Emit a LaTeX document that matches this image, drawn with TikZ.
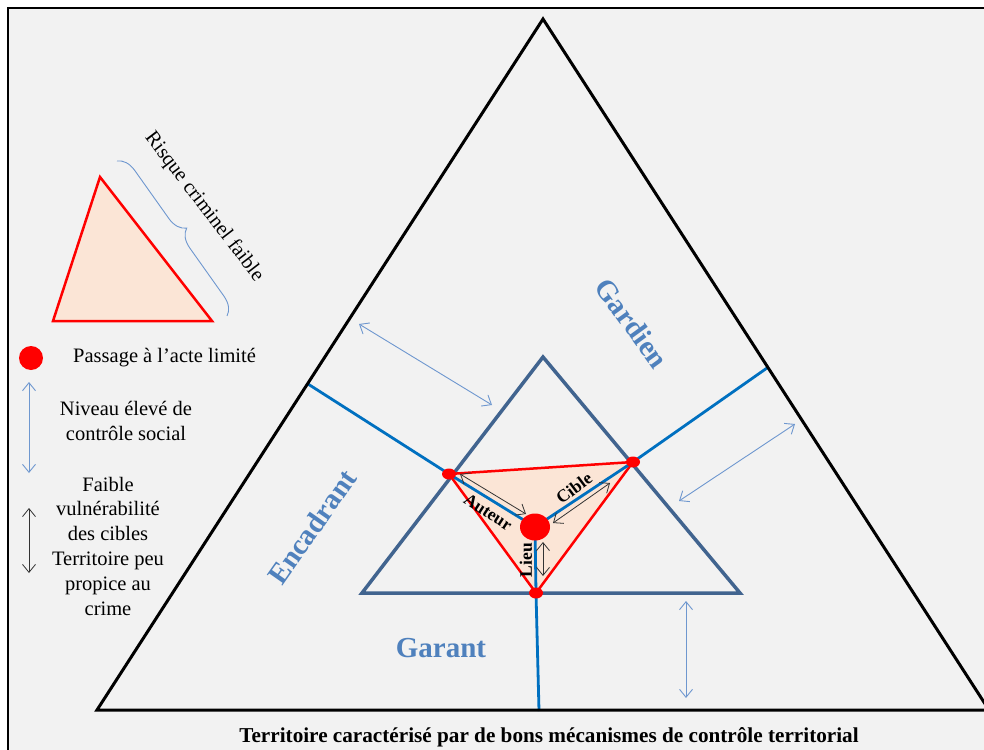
\documentclass[tikz,border=0pt]{standalone}
\usepackage{fontspec}
\setmainfont{Liberation Serif}
\usetikzlibrary{arrows.meta,decorations.pathreplacing}
\definecolor{bg}{HTML}{F2F2F2}
\definecolor{peach}{HTML}{FBE5D6}
\definecolor{linkblue}{HTML}{0070C0}
\definecolor{tri}{HTML}{41648F}
\definecolor{labelblue}{HTML}{4F81BD}
\definecolor{thinblue}{HTML}{6E97CF}
\begin{document}
\begin{tikzpicture}[x=1pt,y=-1pt,
  outer/.style={draw=black,line width=3pt,line join=miter},
  innertri/.style={draw=tri,line width=3.5pt,line join=miter},
  redtri/.style={draw=red,fill=peach,line width=2.5pt,line join=miter},
  link/.style={draw=linkblue,line width=2.8pt},
  thinarrow/.style={draw=thinblue,line width=0.9pt,{Straight Barb[length=8pt,width=13pt]}-{Straight Barb[length=8pt,width=13pt]}},
  blackarrow/.style={draw=black!80,line width=0.8pt,{Straight Barb[length=8pt,width=13pt]}-{Straight Barb[length=8pt,width=13pt]}},
  role/.style={font=\bfseries\fontsize{29}{34}\selectfont,text=labelblue,inner sep=0pt},
  small/.style={font=\bfseries\fontsize{17.5}{20}\selectfont,inner sep=0pt},
  legend/.style={font=\fontsize{20.5}{24.8}\selectfont,inner sep=0pt}
]
\useasboundingbox (0,0) rectangle (984,749);
\fill[white] (0,0) rectangle (984,749);
\begin{scope}
\clip (0,0) rectangle (984,749);
\draw[line width=2pt,fill=bg] (8,8) rectangle (1000,770);
% outer triangle
\coordinate (A) at (543,19);
\coordinate (B) at (97,710);
\coordinate (C) at (989,710);
% inner triangle
\coordinate (P) at (543,357);
\coordinate (Q) at (362,593);
\coordinate (R) at (740,593);
% red triangle
\coordinate (u) at (449,474);
\coordinate (v) at (633,462);
\coordinate (w) at (536,593);
\coordinate (o) at (535,527);
% ends of the blue links on the outer triangle
\coordinate (ul) at (308,384);
\coordinate (vr) at (767,368);
\coordinate (wb) at (539,711);

\draw[link] (ul) -- (u);
\draw[link] (vr) -- (v);
\draw[link] (wb) -- (w);
\draw[outer] (A) -- (B) -- (C) -- cycle;
\draw[innertri] (P) -- (Q) -- (R) -- cycle;
\draw[redtri] (u) -- (v) -- (w) -- cycle;
\draw[link] (o) -- (u);
\draw[link] (o) -- (v);
\draw[link] (o) -- (w);

% black arrows inside the red triangle
\coordinate (a1) at (460,474);
\coordinate (a2) at (526,514);
\coordinate (c1) at (610,483);
\coordinate (c2) at (553,523);
\coordinate (l1) at (543,542);
\coordinate (l2) at (543,576);
\draw[blackarrow] (a1) -- (a2);
\draw[blackarrow] (c1) -- (c2);
\draw[blackarrow] (l1) -- (l2);

% dots
\fill[red] (o) ellipse (15pt and 13.5pt);
\fill[red] (u) ellipse (7pt and 5.5pt);
\fill[red] (v) ellipse (7pt and 5.5pt);
\fill[red] (w) ellipse (7pt and 5.5pt);

% labels in the small triangle
\node[small,rotate=-33] (auteur) at (488,512) {Auteur};
\node[small,rotate=37] (cible) at (574,488) {Cible};
\node[small,rotate=90] (lieu) at (526,560) {Lieu};

% role labels
\node[role,rotate=-54] (gardien) at (632,323) {Gardien};
\node[role,rotate=55] (encadrant) at (312,527) {Encadrant};
\node[role] (garant) at (441,648) {Garant};

% thin blue distance arrows
\coordinate (t1) at (359,324);
\coordinate (t2) at (492,405);
\coordinate (t3) at (795,424);
\coordinate (t4) at (679,501);
\coordinate (t5) at (686,601);
\coordinate (t6) at (686,698);
\draw[thinarrow] (t1) -- (t2);
\draw[thinarrow] (t3) -- (t4);
\draw[thinarrow] (t5) -- (t6);

% legend
\draw[redtri] (100,177) -- (53,321) -- (212,321) -- cycle;
\coordinate (b1) at (117,161);
\coordinate (b2) at (227,316);
\draw[draw=thinblue,line width=0.9pt,decorate,decoration={brace,amplitude=18pt}] (b1) -- (b2);
\node[legend,rotate=-52.5] (risque) at (204,207) {Risque criminel faible};

\fill[red] (31,358) circle (12pt);
\node[legend,anchor=west] (passage) at (73,358) {Passage à l’acte limité};
\coordinate (n1) at (29,382);
\coordinate (n2) at (29,473);
\draw[thinarrow] (n1) -- (n2);
\node[legend,align=center] (niveau) at (126,421) {Niveau élevé de\\contrôle social};
\coordinate (f1) at (29,508);
\coordinate (f2) at (29,573);
\draw[blackarrow] (f1) -- (f2);
\node[legend,align=center] (faible) at (108,546) {Faible\\vulnérabilité\\des cibles\\Territoire peu\\propice au\\crime};

\node[font=\bfseries\fontsize{21.2}{25}\selectfont,inner sep=0pt] (title) at (549,737) {Territoire caractérisé par de bons mécanismes de contrôle territorial};
\end{scope}
\end{tikzpicture}
\end{document}
